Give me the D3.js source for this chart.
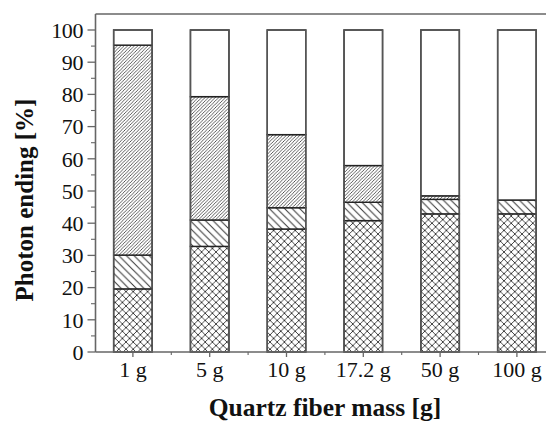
<!DOCTYPE html>
<html>
<head>
<meta charset="utf-8">
<script src="https://cdn.jsdelivr.net/npm/d3@7"></script>
<style>
  html, body { margin: 0; padding: 0; background: #fff; }
  svg { display: block; }
</style>
</head>
<body>
<svg id="chart" width="546" height="427" font-family="'Liberation Serif', 'Times New Roman', Times, serif"></svg>
<script>
// Fate of photons versus the mass of quartz fiber (stacked percentages)
const categories = ["1 g", "5 g", "10 g", "17.2 g", "50 g", "100 g"];
const crossHatched = [19.6, 32.8, 38.2, 40.8, 42.9, 42.9];
const backHatched = [10.5, 8.2, 6.6, 5.7, 4.5, 4.3];
const forwardHatched = [65.2, 38.3, 22.7, 11.4, 1.1, 0];
const openPart = [4.7, 20.7, 32.5, 42.1, 51.5, 52.8];
const yTicks = [0, 10, 20, 30, 40, 50, 60, 70, 80, 90, 100];

const seriesKeys = ["cross", "back", "forward", "open"];
const rows = categories.map((c, i) => ({
  cat: c,
  cross: crossHatched[i],
  back: backHatched[i],
  forward: forwardHatched[i],
  open: openPart[i]
}));

const svg = d3.select("#chart");
const plotLeft = 95.5, plotBottom = 352, plotTop = 30, frameTop = 14;
const textColor = "#111";

const x = d3.scaleBand()
  .domain(categories)
  .range([94.5, 94.5 + 6 * 76.8])
  .paddingInner(0.5)
  .paddingOuter(0.25);

const y = d3.scaleLinear().domain([0, 100]).range([plotBottom, plotTop]);

// hatch patterns
const defs = svg.append("defs");
function diagPattern(id, size, dir, width, both) {
  const p = defs.append("pattern")
    .attr("id", id)
    .attr("patternUnits", "userSpaceOnUse")
    .attr("width", size).attr("height", size);
  p.append("rect").attr("width", size).attr("height", size).attr("fill", "#fff");
  const s = size;
  const fwd = `M0,${s} L${s},0 M${-s / 2},${s / 2} L${s / 2},${-s / 2} M${s / 2},${s * 1.5} L${s * 1.5},${s / 2}`;
  const bck = `M0,0 L${s},${s} M${-s / 2},${s / 2} L${s / 2},${s * 1.5} M${s / 2},${-s / 2} L${s * 1.5},${s / 2}`;
  const d = both ? fwd + " " + bck : (dir > 0 ? fwd : bck);
  p.append("path").attr("d", d)
    .attr("stroke", "#333").attr("stroke-width", width).attr("fill", "none");
}
diagPattern("pat-cross", 7.2, 0, 0.9, true);
diagPattern("pat-back", 7.6, -1, 1.0, false);
diagPattern("pat-forward", 3.4, 1, 0.8, false);

const fills = {
  cross: "url(#pat-cross)",
  back: "url(#pat-back)",
  forward: "url(#pat-forward)",
  open: "#fff"
};

const stacked = d3.stack().keys(seriesKeys)(rows);

const barW = 38.5;
const g = svg.append("g");
stacked.forEach(layer => {
  g.selectAll(null)
    .data(layer.filter(d => d[1] - d[0] > 0))
    .join("rect")
    .attr("x", d => x(d.data.cat) + x.bandwidth() / 2 - barW / 2)
    .attr("width", barW)
    .attr("y", d => y(d[1]))
    .attr("height", d => y(d[0]) - y(d[1]))
    .attr("fill", fills[layer.key])
    .attr("stroke", "#222")
    .attr("stroke-width", 1.4);
});

// outer outline of each bar
g.selectAll(null)
  .data(rows)
  .join("rect")
  .attr("x", d => x(d.cat) + x.bandwidth() / 2 - barW / 2)
  .attr("width", barW)
  .attr("y", y(100))
  .attr("height", y(0) - y(100))
  .attr("fill", "none")
  .attr("stroke", "#555")
  .attr("stroke-width", 1.5);

// frame lines
const axisColor = "#666";
svg.append("line")
  .attr("x1", plotLeft).attr("x2", 560)
  .attr("y1", frameTop).attr("y2", frameTop)
  .attr("stroke", axisColor).attr("stroke-width", 1.6);
svg.append("line")
  .attr("x1", plotLeft).attr("x2", plotLeft)
  .attr("y1", frameTop).attr("y2", plotBottom)
  .attr("stroke", axisColor).attr("stroke-width", 1.6);
svg.append("line")
  .attr("x1", plotLeft).attr("x2", 560)
  .attr("y1", plotBottom).attr("y2", plotBottom)
  .attr("stroke", axisColor).attr("stroke-width", 1.6);

// y axis ticks and labels
const yAxis = svg.append("g");
yAxis.selectAll(".major")
  .data(yTicks)
  .join("line")
  .attr("x1", plotLeft - 8).attr("x2", plotLeft)
  .attr("y1", d => y(d)).attr("y2", d => y(d))
  .attr("stroke", axisColor).attr("stroke-width", 1.3);
yAxis.selectAll(".minor")
  .data(yTicks.slice(0, -1).map(v => v + 5))
  .join("line")
  .attr("x1", plotLeft - 4.5).attr("x2", plotLeft)
  .attr("y1", d => y(d)).attr("y2", d => y(d))
  .attr("stroke", axisColor).attr("stroke-width", 1.1);
yAxis.selectAll("text")
  .data(yTicks)
  .join("text")
  .attr("x", 83)
  .attr("y", d => y(d))
  .attr("dy", "0.35em")
  .attr("text-anchor", "end")
  .attr("font-size", 22)
  .attr("letter-spacing", -0.4)
  .attr("fill", textColor)
  .text(d => d);

// x axis ticks and labels
const xAxis = svg.append("g");
xAxis.selectAll(".major")
  .data(categories)
  .join("line")
  .attr("x1", d => x(d) + x.bandwidth() / 2)
  .attr("x2", d => x(d) + x.bandwidth() / 2)
  .attr("y1", plotBottom).attr("y2", plotBottom + 5)
  .attr("stroke", axisColor).attr("stroke-width", 1.3);
xAxis.selectAll(".minor")
  .data(categories.slice(0, -1))
  .join("line")
  .attr("x1", d => x(d) + x.bandwidth() / 2 + x.step() / 2)
  .attr("x2", d => x(d) + x.bandwidth() / 2 + x.step() / 2)
  .attr("y1", plotBottom).attr("y2", plotBottom + 3)
  .attr("stroke", axisColor).attr("stroke-width", 1.1);
xAxis.selectAll("text")
  .data(categories)
  .join("text")
  .attr("x", d => x(d) + x.bandwidth() / 2)
  .attr("y", 377)
  .attr("text-anchor", "middle")
  .attr("font-size", 22)
  .attr("fill", textColor)
  .text(d => d);

// axis titles
svg.append("text")
  .attr("x", 325).attr("y", 416)
  .attr("text-anchor", "middle")
  .attr("font-size", 25.5)
  .attr("font-weight", "bold")
  .attr("fill", textColor)
  .text("Quartz fiber mass [g]");
svg.append("text")
  .attr("transform", "translate(33,200) rotate(-90)")
  .attr("text-anchor", "middle")
  .attr("font-size", 25)
  .attr("font-weight", "bold")
  .attr("fill", textColor)
  .text("Photon ending [%]");
</script>
</body>
</html>
